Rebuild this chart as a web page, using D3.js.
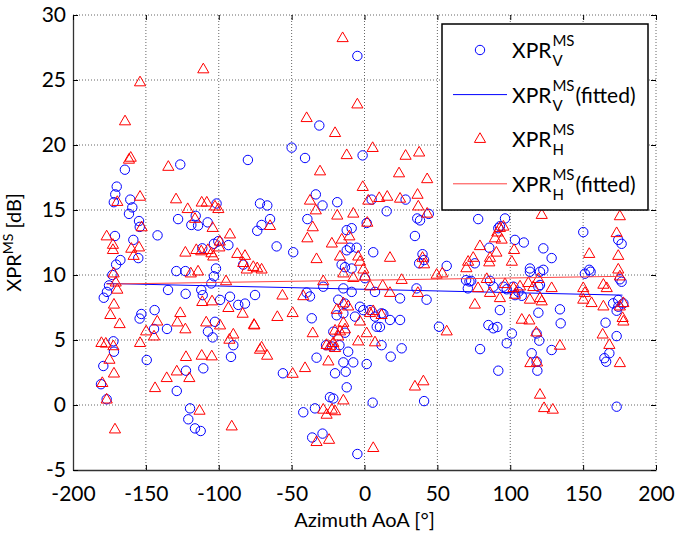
<!DOCTYPE html>
<html>
<head>
<meta charset="utf-8">
<script src="https://cdnjs.cloudflare.com/ajax/libs/d3/7.8.5/d3.min.js"></script>
<style>
  body { margin: 0; background: #fff; }
  svg text { font-family: Lato, "Open Sans", sans-serif; fill: #000; }
</style>
</head>
<body>
<div id="chart"></div>
<script>
// tick values
const xTicks = [-200, -150, -100, -50, 0, 50, 100, 150, 200];
const yTicks = [-5, 0, 5, 10, 15, 20, 25, 30];

// XPR_V^MS measured points [azimuth, dB]
const xprV = [
  [-170,16.8],[-171,16.2],[-172,15.6],[-164.4,18.1],[-126.4,18.5],[-160.7,15.8],[-159.3,15.2],[-161.6,14.7],
  [-154.7,14.15],[-154.2,13.7],[-142,13.05],[-127.9,14.3],[-115.8,14.55],[-118.8,13.85],[-114.2,13.8],[-107.6,14.05],
  [-101.5,15.5],[-171.2,13.0],[-158.6,12.7],[-155.2,11.3],[-167.5,11.15],[-170.4,10.8],[-111.3,12.05],[-103.3,12.4],
  [-101.9,10.5],[-129.1,10.3],[-122.9,10.3],[-173,10.0],[-175.3,9.2],[-176.7,8.7],[-178.9,8.25],[-134.8,8.85],
  [-122.7,8.55],[-112,8.85],[-111,8.45],[-105.1,9.35],[-144,7.3],[-153.1,7.0],[-154.3,6.65],[-135.5,5.85],
  [-144.4,5.85],[-107.4,5.65],[-172.3,4.9],[-103.3,9.9],[-104.2,5.2],[-102.6,6.4],[-171.9,4.1],[-149.4,3.46],
  [-179.2,3.0],[-180.8,1.6],[-176.9,0.44],[-128.8,1.08],[-122.5,2.64],[-110.6,2.82],[-119.7,-0.26],[-120.9,-1.1],
  [-116.3,-1.8],[-112.4,-2.0],[-91.6,3.7],[-90,4.6],[-100.3,12.6],[-93.4,12.3],[-83.2,10.8],[-75.1,8.46],
  [-82,7.8],[-86.6,7.7],[-92.3,8.33],[-99.1,8.08],[-80,18.85],[-71.7,15.5],[-66.7,15.35],[-73.6,13.4],
  [-64.8,14.3],[-70.6,13.85],
  [-4.9,26.85],[-31,21.5],[-50,19.8],[-40.8,19.0],[-1.3,19.2],[-33.4,16.2],[-28.8,15.35],[-18.7,15.6],
  [4.9,15.8],[28.2,15.8],[15.2,14.9],[-39.2,14.3],[1.5,14.0],[36.2,14.35],[38.1,14.2],[44.1,14.7],
  [-12.2,13.45],[-8.8,13.6],[34.6,13.0],[-48.9,11.75],[6.0,11.75],[-10,12.1],[-5.4,12.1],[-12.2,11.9],
  [39.8,11.6],[40.9,11.15],[37.5,10.9],[-15.7,10.8],[-13.4,10.6],[-8.8,10.5],[0.3,9.75],[-28.3,9.1],
  [-39.7,8.65],[-37.4,8.35],[-14.5,8.97],[-8.8,8.7],[7.2,8.7],[24.4,8.2],[35.7,8.97],[42.6,8.1],
  [-3.1,7.56],[3.8,7.3],[-0.8,7.3],[-19.1,6.9],[-14.5,7.05],[-6.5,6.8],[7.2,6.8],[12.9,7.0],[-36.2,6.67],
  [17.5,6.54],[24.4,6.54],[-21.4,5.64],[-13.4,5.56],[8.4,6.02],[10.6,6.0],[51.1,6.02],[-60.3,12.2],
  [56.4,10.7],[-18,8.1],[-13.4,7.8],[11.7,7.05],[-26.4,4.6],[-22.4,4.5],[-17.2,4.6],[-11.2,4.1],
  [11.7,4.6],[25.5,4.36],[18,3.72],[-32.9,3.64],[-14.5,3.28],[-7.7,3.28],[1.5,3.15],[-20.2,2.44],
  [-12.9,2.56],[-56,2.44],[-12.2,1.36],[-23.7,0.6],[-21.4,0.5],[5.6,0.18],[40.9,0.3],[-34,-0.26],
  [-42,-0.56],[-28.8,-2.2],[-35.9,-2.5],[-4.9,-3.77],
  [78,14.3],[96.4,14.35],[92.9,13.75],[91.8,13.6],[103.2,12.7],[109.3,12.5],[85.6,12.1],[75.7,10.9],
  [122.7,12.05],[128.4,11.3],[113.5,10.5],[113.5,10.25],[122.7,10.4],[120.4,10.25],[150.1,13.3],[174.1,12.7],
  [176.4,12.4],[151.2,10.1],[154.2,10.4],[155.1,10.25],[69.7,9.6],[72,9.5],[73.2,9.55],[70.9,8.97],
  [86.1,9.55],[88.4,9.1],[95.3,9.1],[97.6,8.9],[102.2,9.1],[105.6,8.7],[107.9,8.4],[103.3,8.45],
  [119.3,9.1],[120.4,9.23],[92.9,7.3],[119.3,7.1],[134.1,7.36],[134.6,6.28],[85,6.15],[88.4,5.9],
  [91.1,6.0],[101.1,5.5],[97.6,4.75],[79.3,4.3],[91.8,2.64],[118.1,5.5],[119.9,4.95],[114.7,3.98],
  [118.1,3.33],[118.6,2.64],[128.4,4.23],[175.2,9.67],[176.4,9.48],[174.1,8.08],[177.6,7.82],[174.1,7.56],
  [173,7.25],[170.6,7.82],[165.4,6.33],[173,5.3],[164.6,3.6],[165.8,3.33],[168,3.98],[173,-0.13]
];

// XPR_H^MS measured points [azimuth, dB]
const xprH = [
  [-154,24.8],[-110.6,25.8],[-164.3,21.8],[-160.4,19.0],[-161.6,18.85],[-134.6,18.3],[-154,16.0],[-169.6,15.6],
  [-129.3,15.8],[-121.3,15.05],[-116.3,14.3],[-111.7,15.55],[-108.2,15.55],[-102.6,15.25],[-100.3,15.05],[-104.2,13.6],
  [-92.3,13.1],[-176.9,12.95],[-152.9,13.65],[-172.6,12.3],[-172.6,11.9],[-154.7,12.1],[-160,12.0],[-158.4,11.45],
  [-122.9,11.7],[-115.4,11.9],[-112,11.8],[-107.5,11.9],[-105,11.65],[-103.8,11.4],[-119.2,10.1],[-114.2,10.25],
  [-172.1,10.1],[-170.7,9.4],[-169.6,8.85],[-111.3,7.9],[-104.6,7.95],[-171.9,7.7],[-174.4,6.9],[-168,6.2],
  [-126.4,7.05],[-128.4,6.33],[-122.9,5.8],[-142.2,6.4],[-149.8,5.64],[-108.6,6.33],[-144.4,5.25],[-99.3,12.55],
  [-99.6,12.1],[-87.3,11.6],[-82,11.45],[-83.2,10.9],[-80.8,10.4],[-76.3,10.6],[-95,9.5],[-154,4.75],
  [-180.5,4.75],[-177.5,4.7],[-172.3,4.5],[-175,3.46],[-171.9,2.4],[-179.9,1.67],[-176.9,0.4],[-171.2,-1.9],
  [-143.7,1.28],[-135.7,2.05],[-128.8,2.56],[-120.2,2.05],[-122.5,3.67],[-111.7,3.77],[-104.8,3.72],[-113.2,-0.46],
  [-99.1,6.1],[-93.4,7.44],[-83.6,7.0],[-75.6,6.1],[-90,5.4],[-92.7,5.0],[-91.1,-1.67],[-71.7,4.23],
  [-15,28.2],[-4.9,23.1],[-39.7,22.05],[-20.2,20.9],[5.6,19.75],[-12.2,19.2],[28.2,19.15],[37.5,19.4],
  [-30.5,17.95],[23.7,17.8],[43,17.35],[-1.2,16.75],[-37.4,15.7],[-33.4,14.95],[2.6,15.7],[10.1,15.9],
  [15.6,16.0],[24.4,15.85],[36.4,16.15],[36.9,15.25],[43,14.7],[-18.7,14.55],[-7.7,14.7],[-35.5,13.65],
  [-64.8,13.75],[1.9,14.0],[-39.2,12.8],[-22.4,12.4],[-15.6,12.7],[-10.4,12.95],[-16.8,11.4],[-32.9,11.2],
  [-4.3,11.4],[-3.1,11.0],[17.5,11.3],[39.8,11.3],[40.9,10.8],[-0.8,10.4],[0.3,9.87],[-14.5,10.1],
  [-7.7,9.75],[-28.3,9.5],[-42,8.35],[25.5,9.6],[3.8,9.1],[12.5,9.15],[17.5,8.6],[36.6,8.6],
  [49.5,10.0],[-14.5,7.8],[-11.2,7.56],[3.8,7.05],[6,7.2],[11.7,6.9],[-19.1,7.3],[-3.1,6.4],
  [-14.5,6.3],[-13.4,5.8],[-16.8,5.64],[-49.3,7.05],[-35.5,5.5],[1.5,5.5],[53.4,10.1],[-73.6,10.5],
  [-70.6,10.4],[-56.3,8.4],[-59.8,6.75],[-75.8,6.15],[-4.3,4.87],[7.2,4.8],[-20.2,5.7],[-18,5.25],
  [-21.4,4.75],[-23.7,4.5],[-26,4.6],[-20.2,4.36],[-70.6,4.4],[-66.8,3.77],[-40.8,2.82],[-49.3,2.38],
  [-24.8,3.33],[-14.5,0.33],[-28.3,-0.38],[-26,-0.77],[-22.4,-0.38],[-20.2,-0.5],[-32.9,-2.87],[-24.3,-2.7],
  [6.0,-3.33],[34.6,1.4],[40.4,1.8],
  [121.6,14.6],[175.2,14.5],[95.3,13.7],[92.9,13.6],[91.1,13.25],[89.5,12.8],[94.1,12.7],[79.2,12.2],
  [102.6,11.9],[90.5,11.7],[86.1,11.3],[85.6,10.95],[74.6,11.3],[71.1,11.0],[69.9,10.5],[101.1,11.0],
  [83.9,9.67],[96.4,9.28],[102.2,8.97],[106.7,9.1],[112.4,9.36],[115.8,9.05],[119.3,9.67],[128.4,8.97],
  [77.9,8.97],[86.1,8.6],[92.9,8.2],[103.2,8.46],[113.5,8.08],[120.4,8.2],[121.6,7.95],[75.7,7.7],
  [107.9,6.54],[113.1,6.48],[117.9,5.56],[134.1,4.54],[113.8,3.2],[118.4,3.25],[120.4,0.77],[123.2,-0.26],
  [129.2,-0.38],[150.1,8.97],[151.2,8.6],[155.8,7.82],[150.1,8.08],[154.2,11.6],[173,13.2],[174.1,11.45],
  [174.1,10.4],[175.2,9.87],[163.9,9.23],[166.2,8.97],[163.9,7.56],[177.6,7.82],[175.2,7.56],[177.1,6.67],
  [177.6,6.4],[163.4,5.4],[168,4.6],[175.2,3.2],[56.4,5.64]
];

// linear fits (end points)
const fitAz = [-177, 177];
const fitV = [9.35, 8.45];
const fitH = [9.3, 9.9];

let W = 682, H = 535;
let margin = {top: 15, left: 73, bottom: 65, right: 26};
let width = W - margin.left - margin.right;
let height = H - margin.top - margin.bottom;

let xScale = d3.scaleLinear().domain([-200, 200]).range([0, width]);
let yScale = d3.scaleLinear().domain([-5, 30]).range([height, 0]);

let svg = d3.select("#chart").append("svg")
    .attr("width", W)
    .attr("height", H)
  .append("g")
    .attr("transform", `translate(${margin.left}, ${margin.top})`);

// grid
svg.append("g").selectAll("line")
    .data(xTicks.slice(1))
  .enter().append("line")
    .attr("x1", d => xScale(d)).attr("x2", d => xScale(d))
    .attr("y1", 0).attr("y2", height)
    .attr("stroke", "#666").attr("stroke-dasharray", "1,2");
svg.append("g").selectAll("line")
    .data(yTicks.slice(1))
  .enter().append("line")
    .attr("y1", d => yScale(d)).attr("y2", d => yScale(d))
    .attr("x1", 0).attr("x2", width)
    .attr("stroke", "#666").attr("stroke-dasharray", "1,2");

// axes (ticks inside), plain hyphen for negatives
let fmt = d => String(d);
let xAxis = d3.axisBottom(xScale).tickValues(xTicks).tickSizeInner(-5).tickSizeOuter(0).tickPadding(16).tickFormat(fmt);
let yAxis = d3.axisLeft(yScale).tickValues(yTicks).tickSizeInner(-5).tickSizeOuter(0).tickPadding(7).tickFormat(fmt);

let gx = svg.append("g").attr("transform", `translate(0, ${height})`).call(xAxis);
let gy = svg.append("g").call(yAxis);
svg.append("g").call(d3.axisTop(xScale).tickValues(xTicks).tickSizeInner(-5).tickSizeOuter(0).tickFormat(""))
  .select(".domain").remove();
svg.append("g").attr("transform", `translate(${width}, 0)`)
  .call(d3.axisRight(yScale).tickValues(yTicks).tickSizeInner(-5).tickSizeOuter(0).tickFormat(""))
  .select(".domain").remove();

[gx, gy].forEach(g => {
  g.select(".domain").attr("stroke", "#333").attr("stroke-width", 1.3);
  g.selectAll("text").attr("font-size", 21).attr("font-family", "Lato");
});
gx.selectAll("text").attr("dy", "0.7em");
gy.selectAll("text").attr("dy", "0.32em");

// V points
svg.append("g").selectAll("circle")
    .data(xprV)
  .enter().append("circle")
    .attr("cx", d => xScale(d[0]))
    .attr("cy", d => yScale(d[1]))
    .attr("r", 4.7)
    .attr("fill", "none")
    .attr("stroke", "#0000ff");

let line = d3.line().x(d => xScale(d[0])).y(d => yScale(d[1]));

svg.append("path")
    .datum(fitAz.map((a, i) => [a, fitV[i]]))
    .attr("fill", "none").attr("stroke", "#0000ff").attr("stroke-width", 1)
    .attr("d", line);

// H points
let tri = d3.symbol().type(d3.symbolTriangle).size(54);
svg.append("g").selectAll("path")
    .data(xprH)
  .enter().append("path")
    .attr("d", tri)
    .attr("transform", d => `translate(${xScale(d[0])}, ${yScale(d[1])})`)
    .attr("fill", "none")
    .attr("stroke", "#ff0000");

svg.append("path")
    .datum(fitAz.map((a, i) => [a, fitH[i]]))
    .attr("fill", "none").attr("stroke", "#ff4040").attr("stroke-width", 1)
    .attr("d", line);

// axis labels
svg.append("text")
    .attr("x", width / 2).attr("y", height + 57)
    .attr("text-anchor", "middle").attr("font-size", 20)
    .text("Azimuth AoA [°]");

let yl = svg.append("text")
    .attr("transform", `translate(${-52}, ${height / 2}) rotate(-90)`)
    .attr("text-anchor", "middle").attr("font-size", 20);
yl.append("tspan").text("XPR");
yl.append("tspan").attr("font-size", 14).attr("dy", -8).text("MS");
yl.append("tspan").attr("dy", 8).text(" [dB]");

// legend
let lg = svg.append("g").attr("transform", `translate(${442 - margin.left}, ${24 - margin.top})`);
lg.append("rect").attr("width", 206).attr("height", 186)
  .attr("fill", "#fff").attr("stroke", "#000").attr("stroke-width", 1.5);

let entries = [
  {type: "circle", color: "#0000ff", sub: "V", fitted: false},
  {type: "line", color: "#0000ff", sub: "V", fitted: true},
  {type: "tri", color: "#ff0000", sub: "H", fitted: false},
  {type: "line", color: "#ff4040", sub: "H", fitted: true}
];
entries.forEach((e, i) => {
  let cy = 26 + i * 44.6;
  if (e.type === "circle") {
    lg.append("circle").attr("cx", 38).attr("cy", cy).attr("r", 4.7)
      .attr("fill", "none").attr("stroke", e.color);
  } else if (e.type === "tri") {
    lg.append("path").attr("d", tri).attr("transform", `translate(38, ${cy})`)
      .attr("fill", "none").attr("stroke", e.color);
  } else {
    lg.append("line").attr("x1", 11).attr("x2", 65).attr("y1", cy).attr("y2", cy)
      .attr("stroke", e.color);
  }
  let bx = 70, by = cy + 8;
  let t = lg.append("text").attr("x", bx).attr("y", by).attr("font-size", 21).text("XPR");
  let w = t.node().getComputedTextLength();
  let sup = lg.append("text").attr("x", bx + w + 1).attr("y", by - 12).attr("font-size", 15).text("MS");
  lg.append("text").attr("x", bx + w + 1).attr("y", by + 8).attr("font-size", 15).text(e.sub);
  if (e.fitted) {
    let sw = sup.node().getComputedTextLength();
    lg.append("text").attr("x", bx + w + 1 + sw + 1).attr("y", by).attr("font-size", 21).text("(fitted)");
  }
});
</script>
</body>
</html>
